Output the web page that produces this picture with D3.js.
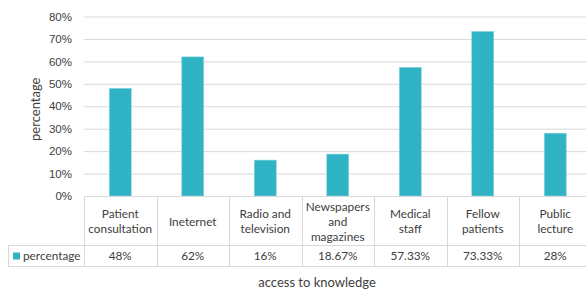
<!DOCTYPE html>
<html>
<head>
<meta charset="utf-8">
<script src="https://cdn.jsdelivr.net/npm/d3@7"></script>
<style>
  body { margin: 0; background: #fff; }
  svg { display: block; font-family: Lato, "Open Sans", sans-serif; }
</style>
</head>
<body>
<div id="chart_area"></div>
<script>
// Data
var categories = ["Patient consultation", "Ineternet", "Radio and television", "Newspapers and magazines", "Medical staff", "Fellow patients", "Public lecture"];
var categoryLines = [["Patient", "consultation"], ["Ineternet"], ["Radio and", "television"], ["Newspapers", "and", "magazines"], ["Medical", "staff"], ["Fellow", "patients"], ["Public", "lecture"]];
var values = [0.48, 0.62, 0.16, 0.1867, 0.5733, 0.7333, 0.28];
var valueLabels = ["48%", "62%", "16%", "18.67%", "57.33%", "73.33%", "28%"];
var yTicks = [0, 0.1, 0.2, 0.3, 0.4, 0.5, 0.6, 0.7, 0.8];
var seriesName = "percentage";

var width = 586, height = 289;
var plotLeft = 84, plotRight = 591.5, plotTop = 16.5, plotBottom = 196;
var headerBottom = 245, tableBottom = 266, tableLeft = 8;
var barColor = "#31b3c6", lineColor = "#d9d9d9", textColor = "#404040";
var tableFont = "11.8px";

var svg = d3.select("#chart_area").append("svg")
    .attr("width", width)
    .attr("height", height);

// Scales
var x = d3.scaleBand()
    .domain(categories)
    .range([plotLeft, plotRight])
    .paddingInner(0)
    .paddingOuter(0);
var y = d3.scaleLinear()
    .domain([0, 0.8])
    .range([plotBottom, plotTop]);

// Gridlines + y labels
var yAxis = svg.append("g")
    .attr("transform", "translate(" + plotLeft + ",0)")
    .call(d3.axisLeft(y).tickValues(yTicks).tickFormat(d3.format(".0%"))
      .tickSize(-(plotRight - plotLeft)).tickPadding(12));
yAxis.select(".domain").remove();
yAxis.selectAll(".tick line").attr("stroke", lineColor);
yAxis.selectAll(".tick text").attr("fill", textColor).style("font-size", "11.5px");

// Bars
var barW = 22;
svg.selectAll(".bar")
    .data(values)
    .enter().append("rect")
    .attr("class", "bar")
    .attr("x", function(d, i) { return x(categories[i]) + x.bandwidth() / 2 - barW / 2; })
    .attr("width", barW)
    .attr("y", function(d) { return y(d); })
    .attr("height", function(d) { return plotBottom - y(d); })
    .attr("fill", barColor)
    .attr("stroke", "#8fd6e0")
    .attr("stroke-width", 0.6);

// Data table lines
var table = svg.append("g").attr("stroke", lineColor).attr("stroke-width", 1).attr("fill", "none");
table.append("line").attr("x1", plotLeft).attr("x2", plotRight).attr("y1", plotBottom + 0.5).attr("y2", plotBottom + 0.5);
table.append("line").attr("x1", tableLeft).attr("x2", plotRight).attr("y1", headerBottom + 0.5).attr("y2", headerBottom + 0.5);
table.append("line").attr("x1", tableLeft).attr("x2", plotRight).attr("y1", tableBottom + 0.5).attr("y2", tableBottom + 0.5);
table.append("line").attr("x1", tableLeft + 0.5).attr("x2", tableLeft + 0.5).attr("y1", headerBottom).attr("y2", tableBottom);
table.selectAll(".vline")
    .data(categories.concat([null]))
    .enter().append("line")
    .attr("x1", function(d) { return Math.round(d ? x(d) : plotRight) + 0.5; })
    .attr("x2", function(d) { return Math.round(d ? x(d) : plotRight) + 0.5; })
    .attr("y1", plotBottom)
    .attr("y2", tableBottom);

// Category labels
var lineH = 15;
var headerMid = (plotBottom + headerBottom) / 2 + 1;
categories.forEach(function(c, i) {
  var lines = categoryLines[i];
  var t = svg.append("text")
      .attr("text-anchor", "middle")
      .attr("fill", textColor)
      .style("font-size", tableFont);
  lines.forEach(function(l, j) {
    t.append("tspan")
      .attr("x", x(c) + x.bandwidth() / 2)
      .attr("y", headerMid + (j - (lines.length - 1) / 2) * lineH)
      .attr("dy", "0.35em")
      .text(l);
  });
});

// Value row
var rowMid = (headerBottom + tableBottom) / 2 + 0.5;
svg.selectAll(".val")
    .data(valueLabels)
    .enter().append("text")
    .attr("class", "val")
    .attr("x", function(d, i) { return x(categories[i]) + x.bandwidth() / 2; })
    .attr("y", rowMid)
    .attr("dy", "0.35em")
    .attr("text-anchor", "middle")
    .attr("fill", textColor)
    .style("font-size", tableFont)
    .text(function(d) { return d; });

// Legend key in table
svg.append("rect")
    .attr("x", 13).attr("y", rowMid - 3.5)
    .attr("width", 7).attr("height", 7)
    .attr("fill", barColor);
svg.append("text")
    .attr("x", 23).attr("y", rowMid).attr("dy", "0.35em")
    .attr("fill", textColor)
    .style("font-size", tableFont)
    .text(seriesName);

// Axis titles
svg.append("text")
    .attr("transform", "translate(35," + ((plotTop + plotBottom) / 2 + 3) + ") rotate(-90)")
    .attr("text-anchor", "middle")
    .attr("dy", "0.35em")
    .attr("fill", textColor)
    .style("font-size", "13px")
    .text("percentage");
svg.append("text")
    .attr("x", 317).attr("y", 282)
    .attr("text-anchor", "middle")
    .attr("dy", "0.35em")
    .attr("fill", textColor)
    .style("font-size", "13px")
    .text("access to knowledge");
</script>
</body>
</html>
